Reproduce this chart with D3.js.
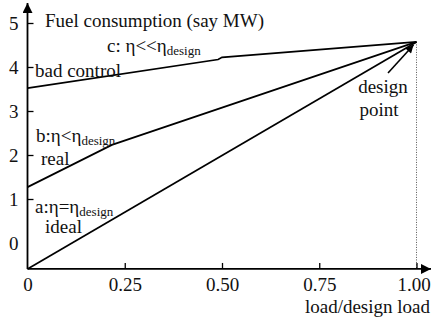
<!DOCTYPE html>
<html><head><meta charset="utf-8">
<script src="https://cdn.jsdelivr.net/npm/d3@7"></script>
<style>
html,body{margin:0;padding:0;background:#fff;}
svg{display:block;}
text{font-family:"Liberation Serif","Times New Roman",Times,serif;fill:#111;}
</style></head>
<body>
<svg id="c" width="432" height="321"></svg>
<script>
// ---- data ----
const xTicks = [0, 0.25, 0.5, 0.75, 1.0];
const xTickLabels = ["0", "0.25", "0.50", "0.75", "1.00"];
const yTicks = [0, 1, 2, 3, 4, 5];
const lineA = [[0, -0.59], [1, 4.57]];                       // a: ideal
const lineB = [[0, 1.27], [0.217, 2.23], [1, 4.57]];          // b: real
const lineC = [[0, 3.52], [0.49, 4.17], [0.5, 4.22], [1, 4.57]]; // c: bad control
const designPoint = [1, 4.57];
const axisFloor = -0.59;

const svg = d3.select("#c");
const x = d3.scaleLinear().domain([0, 1]).range([27.5, 416.5]);
const y = d3.scaleLinear().domain([0, 5]).range([243, 23]);
const x0 = x(0), yAxis = y(axisFloor);

const defs = svg.append("defs");
defs.append("marker").attr("id","ah").attr("viewBox","0 0 10 10").attr("refX",10).attr("refY",5)
  .attr("markerWidth",10).attr("markerHeight",8).attr("markerUnits","userSpaceOnUse").attr("orient","auto")
  .append("path").attr("d","M0,0L10,5L0,10Z").attr("fill","#000");
defs.append("marker").attr("id","ah2").attr("viewBox","0 0 10 10").attr("refX",10).attr("refY",5)
  .attr("markerWidth",14).attr("markerHeight",10).attr("markerUnits","userSpaceOnUse").attr("orient","auto")
  .append("path").attr("d","M0,0L10,5L0,10Z").attr("fill","#000");

// dotted design line
svg.append("line").attr("x1", x(1)).attr("x2", x(1)).attr("y1", y(designPoint[1])).attr("y2", yAxis)
  .attr("stroke","#555").attr("stroke-width",1).attr("stroke-dasharray","1,1.5");

// axes
const gy = svg.append("g").attr("transform", `translate(${x0},0)`)
  .call(d3.axisLeft(y).tickValues(yTicks).tickFormat(d3.format("d")).tickSizeInner(-6).tickSizeOuter(0).tickPadding(9));
gy.attr("font-family", null);
gy.select(".domain").remove();
gy.selectAll(".tick line").attr("stroke","#000").attr("stroke-width",1.3).attr("opacity", d => d === 0 ? 0 : 1);
gy.selectAll(".tick text").attr("font-size",19).attr("fill","#111");

const gx = svg.append("g").attr("transform", `translate(0,${yAxis})`)
  .call(d3.axisBottom(x).tickValues(xTicks).tickFormat((d,i) => xTickLabels[i]).tickSizeInner(-6).tickSizeOuter(0).tickPadding(9));
gx.attr("font-family", null);
gx.select(".domain").remove();
gx.selectAll(".tick line").attr("stroke","#000").attr("stroke-width",1.3).attr("opacity", d => d === 0 ? 0 : 1);
gx.selectAll(".tick text").attr("font-size",19).attr("fill","#111")
  .attr("dx", d => d === 1 ? -3 : 0);

svg.append("line").attr("x1", x0).attr("x2", 431).attr("y1", yAxis).attr("y2", yAxis)
  .attr("stroke","#000").attr("stroke-width",1.8).attr("marker-end","url(#ah2)");
svg.append("line").attr("x1", x0).attr("x2", x0).attr("y1", yAxis).attr("y2", 3)
  .attr("stroke","#000").attr("stroke-width",1.8).attr("marker-end","url(#ah2)");

// lines
const lg = d3.line().x(d => x(d[0])).y(d => y(d[1]));
[lineA, lineB, lineC].forEach(L => {
  svg.append("path").attr("d", lg(L)).attr("fill","none").attr("stroke","#000").attr("stroke-width",1.7);
});

// design-point arrow
svg.append("line").attr("x1", 388).attr("y1", 73).attr("x2", x(designPoint[0]) - 3).attr("y2", y(designPoint[1]) + 3)
  .attr("stroke","#000").attr("stroke-width",1.6).attr("marker-end","url(#ah)");

// text
function label(xp, yp, parts, anchor) {
  const t = svg.append("text").attr("x", xp).attr("y", yp).attr("font-size", 19).attr("text-anchor", anchor || "start");
  parts.forEach(p => {
    const s = t.append("tspan").text(p.t);
    if (p.sub) s.attr("font-size", 13).attr("dy", 3);
  });
  return t;
}
label(45, 27, [{t:"Fuel consumption (say MW)"}]);
label(107, 52, [{t:"c: η<<η"},{t:"design", sub:true}]);
label(35, 77, [{t:"bad control"}]);
label(36, 142, [{t:"b:η<η"},{t:"design", sub:true}]);
label(41, 165, [{t:"real"}]);
label(35, 213, [{t:"a:η=η"},{t:"design", sub:true}]);
label(45, 233, [{t:"ideal"}]);
label(383, 93, [{t:"design"}], "middle");
label(379, 116, [{t:"point"}], "middle");
label(430, 313, [{t:"load/design load"}], "end");
</script>
</body></html>
